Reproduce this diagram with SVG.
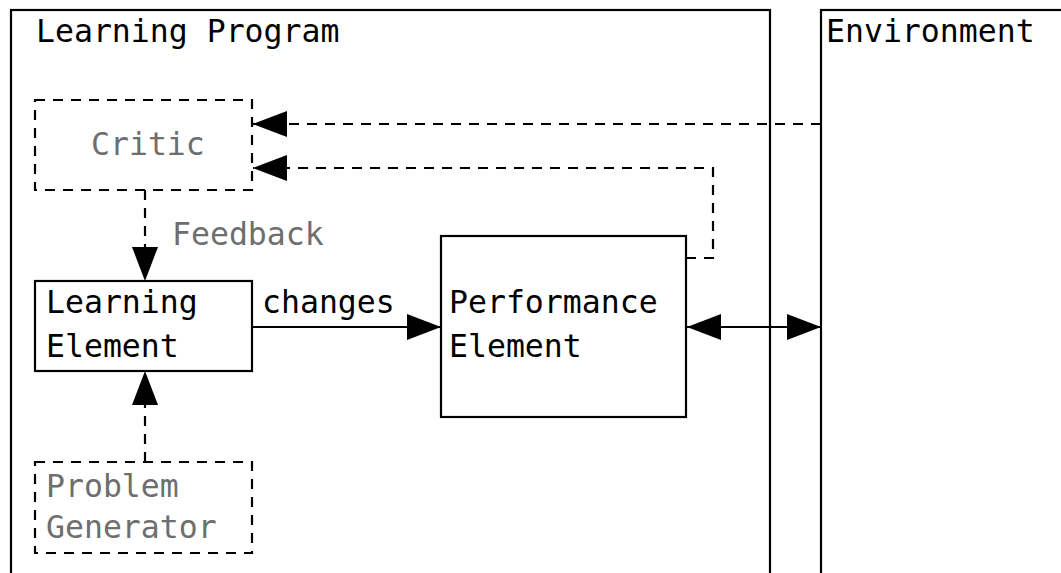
<svg xmlns="http://www.w3.org/2000/svg" width="1061" height="573" viewBox="0 0 1061 573">
<defs>
<style>
text{font-family:"DejaVu Sans Mono","Liberation Mono",monospace;font-size:31.5px;fill:#000}
.g{fill:#6e6e6e}
.box{fill:#fff;stroke:#000;stroke-width:2.2}
.dbox{fill:none;stroke:#000;stroke-width:2.2;stroke-dasharray:10 8}
.ln{fill:none;stroke:#000;stroke-width:2.2}
.dl{fill:none;stroke:#000;stroke-width:2.2;stroke-dasharray:10 8}
</style>
<marker id="ah" viewBox="0 0 34 26" refX="34" refY="13" markerWidth="34" markerHeight="26" markerUnits="userSpaceOnUse" orient="auto-start-reverse">
<path d="M0,0 L34,13 L0,26 Z" fill="#000"/>
</marker>
</defs>
<rect width="1061" height="573" fill="#fff"/>
<g id="learning-program">
<rect class="box" x="11" y="10" width="759" height="580"/>
<text x="36" y="42">Learning Program</text>
</g>
<g id="environment">
<rect class="box" x="821" y="10" width="260" height="580"/>
<text x="826" y="42">Environment</text>
</g>
<g id="critic">
<rect class="dbox" x="35" y="100" width="217" height="90"/>
<text class="g" x="91" y="155">Critic</text>
</g>
<g id="learning-element">
<rect class="box" x="35" y="281" width="217" height="90"/>
<text x="46" y="313">Learning</text>
<text x="46" y="357">Element</text>
</g>
<g id="performance-element">
<rect class="box" x="441" y="236" width="245" height="181"/>
<text x="449" y="313">Performance</text>
<text x="449" y="357">Element</text>
</g>
<g id="problem-generator">
<rect class="dbox" x="35" y="462" width="217" height="91"/>
<text class="g" x="46" y="497">Problem</text>
<text class="g" x="46" y="538">Generator</text>
</g>
<g id="connectors">
<path class="dl" d="M821,124 L253,124" marker-end="url(#ah)"/>
<path class="dl" d="M686,258 L713,258 L713,168 L253,168" marker-end="url(#ah)"/>
<path class="dl" d="M145,190 L145,281" marker-end="url(#ah)"/>
<text class="g" x="172" y="245">Feedback</text>
<path class="ln" d="M252,327 L441,327" marker-end="url(#ah)"/>
<text x="262" y="313">changes</text>
<path class="ln" d="M687,327 L821,327" marker-start="url(#ah)" marker-end="url(#ah)"/>
<path class="dl" d="M145,462 L145,371" marker-end="url(#ah)"/>
</g>
</svg>
